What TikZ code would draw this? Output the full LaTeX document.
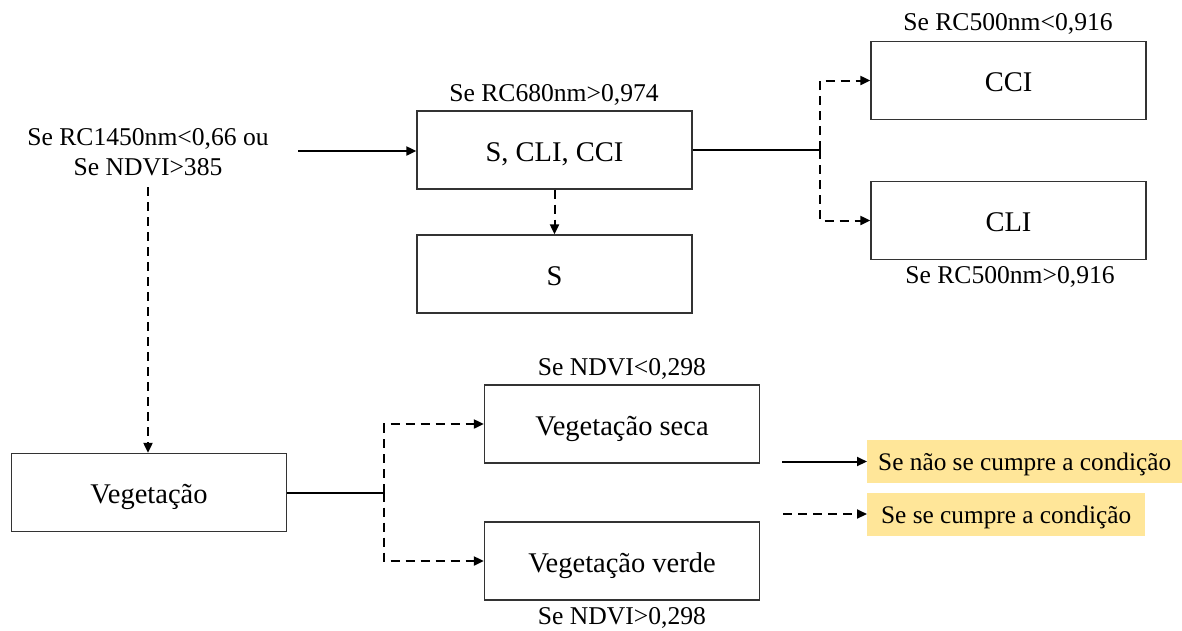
\documentclass[tikz,border=0pt]{standalone}
\usepackage{fontspec}
\setmainfont{Liberation Serif}
\usetikzlibrary{arrows.meta}
\definecolor{legendyellow}{RGB}{255,230,153}
\begin{document}
\begin{tikzpicture}[x=1pt,y=-1pt,
 box/.style={draw=black!80,line width=1.3pt,minimum width=275pt,minimum height=78pt,inner sep=0pt,text height=22.5pt,text depth=0pt,font=\fontsize{28.5}{32}\selectfont},
 lab/.style={font=\fontsize{25.6}{30}\selectfont,inner sep=0pt},
 conn/.style={line width=2pt,-{Triangle[length=10pt,width=9pt]}},
 line/.style={line width=2pt},
 dsh/.style={dash pattern=on 9pt off 6pt},
 leg/.style={fill=legendyellow,inner sep=0pt,minimum height=43pt,text height=17.5pt,text depth=0pt,font=\fontsize{25.3}{30}\selectfont,anchor=north west}]
\useasboundingbox (0,0) rectangle (1182,630);
% boxes
\node[box] (scc) at (554.5,150) {S, CLI, CCI};
\node[box] (s) at (554.5,274) {S};
\node[box] (cci) at (1008.5,80.5) {CCI};
\node[box] (cli) at (1008.5,220.5) {CLI};
\node[box] (veg) at (149,492.5) {Vegetação};
\node[box] (vs) at (622,424) {Vegetação seca};
\node[box] (vv) at (622,561) {Vegetação verde};
% labels
\node[lab,align=center] (cond) at (148,152) {Se RC1450nm<0,66 ou\\Se NDVI>385};
\node[lab] (l680) at (554,95) {Se RC680nm>0,974};
\node[lab] (l500a) at (1008,24) {Se RC500nm<0,916};
\node[lab] (l500b) at (1010,277) {Se RC500nm>0,916};
\node[lab] (lnd1) at (622,369) {Se NDVI<0,298};
\node[lab] (lnd2) at (622,618) {Se NDVI>0,298};
% legend
\node[leg,minimum width=315pt] (lg1) at (867,440) {Se não se cumpre a condição};
\node[leg,minimum width=278pt] (lg2) at (867,493) {Se se cumpre a condição};
% connectors
\coordinate (a0) at (298,151);
\draw[conn] (a0) -- (a0 -| scc.west);
\coordinate (c0) at (148,187);
\draw[conn,dsh] (c0) -- (c0 |- veg.north);
\draw[conn,dsh] (scc.south) -- (s.north);
\coordinate (j1) at (820,150);
\draw[line] (scc.east) -- (j1);
\draw[conn,dsh] (j1) |- (cci.west);
\draw[conn,dsh] (j1) |- (cli.west);
\coordinate (j2) at (384,492.5);
\draw[line] (veg.east) -- (j2);
\draw[conn,dsh] (j2) |- (vs.west);
\draw[conn,dsh] (j2) |- (vv.west);
\coordinate (la) at (782,461.5);
\draw[conn] (la) -- (la -| lg1.west);
\coordinate (lb) at (783,514);
\draw[conn,dsh] (lb) -- (lb -| lg2.west);
\end{tikzpicture}
\end{document}
